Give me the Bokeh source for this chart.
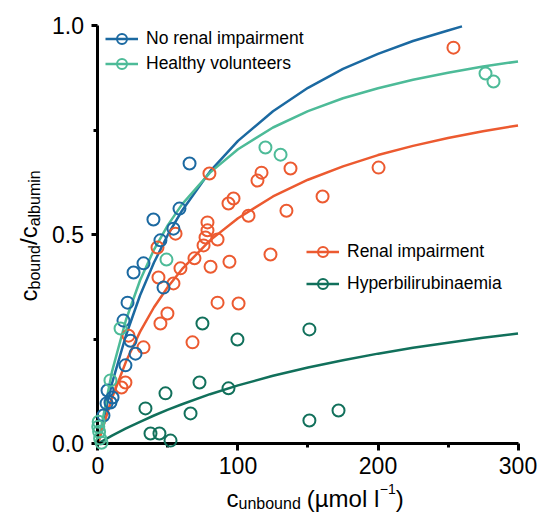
import math
from bokeh.plotting import figure
from bokeh.models import Range1d, FixedTicker, NumeralTickFormatter, Legend, LegendItem, Label
from bokeh.embed import file_html
from bokeh.resources import INLINE

# ---------------- data ----------------
x_ticks = [0, 100, 200, 300]
x_minor = [50, 150, 250]
y_ticks = [0.0, 0.5, 1.0]
y_minor = [0.25, 0.75]

series_names = ["No renal impairment", "Healthy volunteers", "Renal impairment", "Hyperbilirubinaemia"]

no_renal_x = [65.4, 58.2, 39.6, 53.9, 44.6, 32.5, 25.4, 46.8, 21.1, 18.2, 23.2, 26.8, 19.6, 6.8, 8.9, 3.9, 10.4, 6.1]
no_renal_y = [0.670, 0.562, 0.536, 0.514, 0.486, 0.431, 0.409, 0.373, 0.337, 0.294, 0.246, 0.215, 0.187, 0.127, 0.098, 0.067, 0.110, 0.096]

healthy_x = [119.6, 130.4, 276.8, 282.5, 48.9, 16.1, 8.9, 0.5, 0.8, 1.5, 2.5, 0.2]
healthy_y = [0.708, 0.691, 0.885, 0.866, 0.440, 0.275, 0.151, 0.052, 0.028, 0.012, 0.002, 0.040]

renal_x = [253.9, 200.4, 137.5, 160.4, 134.6, 123.2, 79.6, 116.8, 113.9, 96.8, 93.2, 107.5, 78.2, 78.2,
           76.8, 85.4, 75.4, 68.9, 80.4, 93.9, 85.4, 100.4, 58.9, 43.2, 53.9, 55.4, 49.6, 44.6, 67.5,
           32.5, 21.8, 42.5, 19.6, 16.8]
renal_y = [0.947, 0.660, 0.658, 0.591, 0.557, 0.452, 0.646, 0.648, 0.629, 0.586, 0.574, 0.545, 0.529, 0.510,
           0.493, 0.488, 0.474, 0.443, 0.423, 0.435, 0.337, 0.335, 0.419, 0.397, 0.383, 0.502, 0.311, 0.287, 0.242,
           0.230, 0.258, 0.469, 0.146, 0.134]

hyper_x = [74.6, 99.6, 72.5, 48.2, 93.2, 33.9, 66.1, 37.5, 43.9, 51.8, 151.0, 151.0, 171.8]
hyper_y = [0.287, 0.249, 0.146, 0.120, 0.132, 0.084, 0.072, 0.024, 0.024, 0.007, 0.273, 0.055, 0.079]

# fitted curves
curve_x = [0, 10, 20, 30, 40, 50, 60, 80, 100, 125, 150, 175, 200, 225, 250, 275, 300]
no_renal_fit_x = [0, 10, 20, 30, 40, 50, 60, 80, 100, 125, 150, 175, 200, 225, 250, 260]
no_renal_fit_y = [0, 0.144, 0.259, 0.354, 0.433, 0.500, 0.557, 0.651, 0.724, 0.795, 0.851, 0.896, 0.932, 0.963, 0.988, 0.998]
healthy_fit_y = [0, 0.172, 0.296, 0.390, 0.464, 0.523, 0.572, 0.648, 0.704, 0.756, 0.795, 0.826, 0.850, 0.870, 0.887, 0.902, 0.914]
renal_fit_y = [0, 0.109, 0.196, 0.267, 0.326, 0.375, 0.417, 0.486, 0.539, 0.591, 0.631, 0.663, 0.690, 0.712, 0.731, 0.747, 0.761]
hyper_fit_y = [0, 0.019, 0.036, 0.052, 0.067, 0.081, 0.094, 0.118, 0.139, 0.162, 0.182, 0.199, 0.215, 0.229, 0.241, 0.253, 0.263]

# ---------------- style ----------------
C_BLUE = "#1b69a1"
C_TEAL = "#4dbb98"
C_ORANGE = "#ec5a30"
C_DGREEN = "#11705b"
FONT = "Liberation Sans"

W_PX, H_PX = 540, 515
# the frame covers the whole canvas; axes are pinned at x=0 / y=0
p = figure(width=W_PX, height=H_PX, output_backend="svg", toolbar_location=None,
           x_range=Range1d(-69.64, 316.07), y_range=Range1d(-0.1722, 1.0598),
           min_border_left=0, min_border_right=0, min_border_top=0, min_border_bottom=0)
p.outline_line_color = None
p.grid.visible = False
p.background_fill_color = "white"
p.border_fill_color = "white"

for ax in (p.xaxis[0], p.yaxis[0]):
    ax.fixed_location = 0
    ax.axis_line_width = 3
    ax.axis_line_color = "black"
    ax.major_tick_line_width = 3
    ax.minor_tick_line_width = 3
    ax.major_tick_in = 0
    ax.minor_tick_in = 0
    ax.major_label_text_font = FONT
    ax.major_label_text_font_size = "23px"
    ax.major_label_text_color = "black"

p.xaxis[0].bounds = (0, 300)
p.xaxis[0].ticker = FixedTicker(ticks=x_ticks, minor_ticks=x_minor)
p.xaxis[0].major_tick_out = 7
p.xaxis[0].minor_tick_out = 4
p.xaxis[0].major_label_standoff = 6

p.yaxis[0].bounds = (0, 1)
p.yaxis[0].ticker = FixedTicker(ticks=y_ticks, minor_ticks=y_minor)
p.yaxis[0].formatter = NumeralTickFormatter(format="0.0")
p.yaxis[0].major_tick_out = 6
p.yaxis[0].minor_tick_out = 4
p.yaxis[0].major_label_standoff = 8

# curves
l_blue = p.line(no_renal_fit_x, no_renal_fit_y, line_color=C_BLUE, line_width=2.5)
l_teal = p.line(curve_x, healthy_fit_y, line_color=C_TEAL, line_width=2.5)
l_orange = p.line(curve_x, renal_fit_y, line_color=C_ORANGE, line_width=2.5)
l_dgreen = p.line(curve_x, hyper_fit_y, line_color=C_DGREEN, line_width=2.5)

# points
def pts(x, y, c):
    return p.scatter(x, y, marker="circle", size=12, fill_color=None, line_color=c, line_width=2,
                     level="annotation")

s_orange = pts(renal_x, renal_y, C_ORANGE)
s_dgreen = pts(hyper_x, hyper_y, C_DGREEN)
s_blue = pts(no_renal_x, no_renal_y, C_BLUE)
s_teal = pts(healthy_x, healthy_y, C_TEAL)

def make_legend(items, loc, spacing):
    return Legend(items=items, location=loc, spacing=spacing, padding=0, margin=0,
                  glyph_width=33, glyph_height=25, label_height=20, label_standoff=8,
                  label_text_font=FONT, label_text_font_size="17.5px", label_text_color="black",
                  border_line_color=None, background_fill_alpha=0)

leg1 = make_legend([LegendItem(label=series_names[0], renderers=[l_blue, s_blue]),
                    LegendItem(label=series_names[1], renderers=[l_teal, s_teal])], (105, 439), 0)
leg2 = make_legend([LegendItem(label=series_names[2], renderers=[l_orange, s_orange]),
                    LegendItem(label=series_names[3], renderers=[l_dgreen, s_dgreen])], (306, 219), 7)
p.add_layout(leg1)
p.add_layout(leg2)

# axis titles with sub/superscripts (screen units, origin at bottom-left of canvas)
W = {'c': 0.5, 'u': 0.556, 'n': 0.556, 'b': 0.556, 'o': 0.556, 'd': 0.556, ' ': 0.278, '(': 0.333,
     ')': 0.333, 'µ': 0.556, 'm': 0.833, 'l': 0.222, '−': 0.584, '1': 0.556, '/': 0.278, 'a': 0.556, 'i': 0.222}

def tw(s, size):
    return sum(W.get(ch, 0.556) for ch in s) * size

# y title: c_bound / c_albumin, rotated
ypieces = [("c", 24, 0, 0), ("bound", 16, 6, 0), ("/", 24, 0, 0), ("c", 24, 0, 0), ("albumin", 16, 6, 0)]
pos = 214
for txt, sz, shift, gap in ypieces:
    pos += gap
    p.add_layout(Label(x=28 + shift, y=pos, x_units="screen", y_units="screen", text=txt,
                       angle=math.pi / 2, text_font=FONT, text_font_size=f"{sz}px",
                       text_baseline="alphabetic", text_align="left", text_color="black"))
    pos += tw(txt, sz)

# x title: c_unbound (µmol l^-1)
xpieces = [("c", 24, 0, 0), ("unbound", 16, -5, 0), ("(µmol l", 24, 0, 6), ("−1", 14, 10, 1), (")", 24, 0, 0)]
pos = 226
for txt, sz, shift, gap in xpieces:
    pos += gap
    p.add_layout(Label(x=pos, y=17 + shift, x_units="screen", y_units="screen", text=txt,
                       text_font=FONT, text_font_size=f"{sz}px",
                       text_baseline="alphabetic", text_align="left", text_color="black"))
    pos += tw(txt, sz)

open("out.html", "w").write(file_html(p, INLINE))
